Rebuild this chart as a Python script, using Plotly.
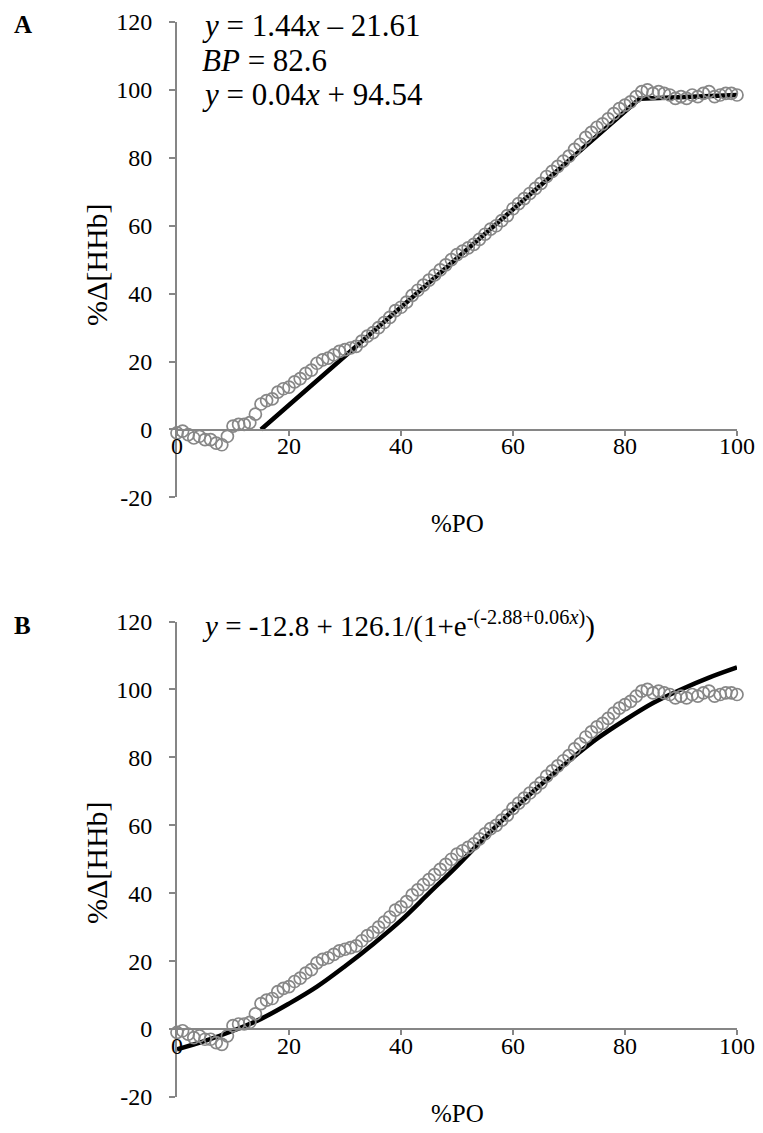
import plotly.graph_objects as go

# ---------------- data ----------------
po_pct = [0, 1, 2, 3, 4, 5, 6, 7, 8, 9, 10, 11, 12, 13, 14, 15, 16, 17, 18, 19,
          20, 21, 22, 23, 24, 25, 26, 27, 28, 29, 30, 31, 32, 33, 34, 35, 36, 37, 38, 39,
          40, 41, 42, 43, 44, 45, 46, 47, 48, 49, 50, 51, 52, 53, 54, 55, 56, 57, 58, 59,
          60, 61, 62, 63, 64, 65, 66, 67, 68, 69, 70, 71, 72, 73, 74, 75, 76, 77, 78, 79,
          80, 81, 82, 83, 84, 85, 86, 87, 88, 89, 90, 91, 92, 93, 94, 95, 96, 97, 98, 99, 100]
hhb_pct = [-1, -0.5, -1.5, -2.5, -2, -3, -3, -4, -4.5, -2,
           1, 1.5, 1.5, 2, 4.5, 7.5, 8.5, 9, 11, 12,
           12.5, 14, 15, 16.5, 17.5, 19.5, 20.5, 21, 22, 23,
           23.5, 24, 24.5, 26, 27.5, 28.5, 30, 31.5, 33, 35,
           36, 37.5, 39.5, 41, 42.5, 44, 45.5, 47, 48.5, 50,
           51.5, 52.5, 53.5, 54.5, 56, 57.5, 59, 60, 61.5, 63,
           65, 66.5, 68, 69.5, 71, 72.5, 74.5, 76, 77.5, 79,
           80.5, 82.5, 84, 86, 87.5, 89, 90, 91.5, 93, 94.5,
           95.5, 96.5, 98, 99.5, 100, 99, 99.5, 99, 98.5, 97.5,
           98, 97.5, 98.5, 98, 99, 99.5, 98, 98.5, 99, 99, 98.5]

# piecewise linear (breakpoint) fit, panel A
fit_a_x = [15, 82.6, 100]
fit_a_y = [0, 97.4, 98.5]

# sigmoid fit, panel B
fit_b_x = [0, 5, 10, 15, 20, 25, 30, 35, 40, 45, 50, 55, 60, 65, 70, 75, 80, 85, 90, 95, 100]
fit_b_y = [-6, -3.5, -0.5, 3, 7.5, 12.5, 18.5, 25, 32, 40, 48, 56.5, 64.5, 72, 79,
           85.5, 91, 96, 100, 103.5, 106.5]

y_ticks = [-20, 0, 20, 40, 60, 80, 100, 120]
y_tick_text = ["-20", "0", "20", "40", "60", "80", "100", "120"]
x_ticks = [0, 20, 40, 60, 80, 100]
x_tick_text = ["0", "20", "40", "60", "80", "100"]

eq_a = ["<i>y</i> = 1.44<i>x</i> \u2013 21.61", "<i>BP</i> = 82.6", "<i>y</i> = 0.04<i>x</i> + 94.54"]
eq_b = "<i>y</i> = -12.8 + 126.1/(1+e<sup>-(-2.88+0.06<i>x</i>)</sup>)"

# ---------------- layout helpers ----------------
W, H = 763, 1133
def px(x):
    return x / W
def py(y):
    return 1 - y / H

FONT = "Liberation Serif, Times New Roman, serif"
GRAY = "#868686"
MARK = "#878787"

fig = go.Figure()

for i, (xa, ya) in enumerate([("x", "y"), ("x2", "y2")]):
    if i == 0:
        fig.add_trace(go.Scatter(x=fit_a_x, y=fit_a_y, mode="lines", xaxis=xa, yaxis=ya,
                                 line=dict(color="black", width=4.5), cliponaxis=False,
                                 showlegend=False))
    else:
        fig.add_trace(go.Scatter(x=fit_b_x, y=fit_b_y, mode="lines", xaxis=xa, yaxis=ya,
                                 line=dict(color="black", width=4.5, shape="spline"),
                                 cliponaxis=False, showlegend=False))
    fig.add_trace(go.Scatter(x=po_pct, y=hhb_pct, mode="markers", xaxis=xa, yaxis=ya,
                             marker=dict(symbol="circle-open", size=12, color=MARK,
                                         line=dict(width=1.7, color=MARK)),
                             cliponaxis=False, showlegend=False))

xdom = [px(177), px(737)]
ydomA = [py(497.4), py(22)]
ydomB = [py(1097), py(621.5)]

tickfont = dict(family=FONT, size=24, color="black")

def yax(dom, anchor):
    return dict(domain=dom, range=[-20, 120], tickvals=y_ticks, ticktext=y_tick_text,
                anchor=anchor, showline=True, linecolor=GRAY, linewidth=2, ticks="outside",
                ticklen=6, tickwidth=2, tickcolor=GRAY, showgrid=False, zeroline=False,
                tickfont=tickfont, ticklabelstandoff=12, automargin=False)

def xax(pos):
    return dict(domain=xdom, range=[0, 100], tickvals=x_ticks, ticktext=x_tick_text,
                anchor="free", position=pos,
                showline=True, linecolor=GRAY, linewidth=2, ticks="outside",
                ticklen=5, tickwidth=2, tickcolor=GRAY, showgrid=False, zeroline=False,
                tickfont=tickfont, ticklabelstandoff=-10, automargin=False)

fig.update_layout(
    width=W, height=H, margin=dict(l=0, r=0, t=0, b=0, autoexpand=False),
    paper_bgcolor="white", plot_bgcolor="white",
    xaxis=xax(py(429.5)), yaxis=yax(ydomA, "x"),
    xaxis2=xax(py(1029)), yaxis2=yax(ydomB, "x2"),
    font=dict(family=FONT, color="black"),
)

ann = []
# panel letters
ann.append(dict(text="<b>A</b>", x=px(12), y=py(25), xanchor="left", yanchor="middle"))
ann.append(dict(text="<b>B</b>", x=px(12), y=py(625), xanchor="left", yanchor="middle"))
# axis titles
for yc in [264, 862]:
    ann.append(dict(text="%\u0394[HHb]", x=px(96), y=py(yc), xanchor="center",
                    yanchor="middle", textangle=-90,
                    font=dict(family=FONT, size=30, color="black")))
for yc in [523, 1113]:
    ann.append(dict(text="%PO", x=px(457), y=py(yc), xanchor="center", yanchor="middle"))
# equations
for k, t in enumerate(eq_a):
    ann.append(dict(text=t, x=px(200), y=py(26 + 34 * k), xanchor="left", yanchor="middle",
                    font=dict(family=FONT, size=31, color="black")))
ann.append(dict(text=eq_b, x=px(200), y=py(624), xanchor="left", yanchor="middle",
                font=dict(family=FONT, size=29, color="black")))

for a in ann:
    a.setdefault("font", dict(family=FONT, size=25, color="black"))
    a.update(xref="paper", yref="paper", showarrow=False)
fig.update_layout(annotations=ann)

fig.write_html("out.html",
               post_script="document.body.style.margin='0';document.body.style.padding='0';")
